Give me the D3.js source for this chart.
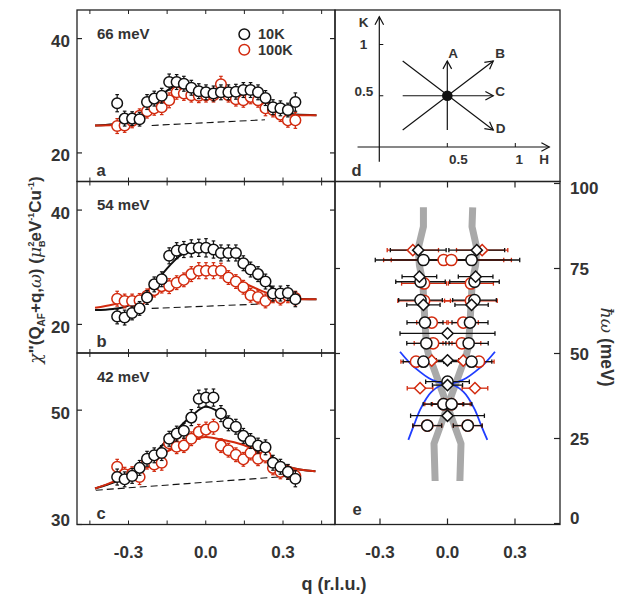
<!DOCTYPE html>
<html><head><meta charset="utf-8">
<script src="https://cdn.jsdelivr.net/npm/d3@7"></script>
<style>
body{margin:0;background:#fff}
svg{display:block}
text{font-family:"Liberation Sans",Arial,Helvetica,sans-serif;font-weight:bold;fill:#333}
</style>
</head><body>
<svg id="c" width="623" height="595"></svg>
<script>
// ---------------- DATA ----------------
const qPoints = [-0.344,-0.315,-0.286,-0.257,-0.228,-0.2,-0.171,-0.142,-0.113,-0.085,-0.056,-0.027,0.001,0.03,0.059,0.088,0.117,0.146,0.174,0.203,0.232,0.261,0.29,0.319,0.348];

// panel a : 66 meV
const a10  = [28.7,26.0,26.0,25.9,28.9,29.5,30.0,32.4,32.4,32.1,31.4,30.8,30.6,30.4,30.6,30.6,30.7,31.0,31.0,30.6,29.6,28.0,27.8,27.5,28.9];
const a10err = [1.5,1.3,1.2,1.2,1.3,1.3,1.3,1.4,1.3,1.3,1.3,1.3,1.3,1.3,1.3,1.3,1.3,1.3,1.3,1.3,1.3,1.3,1.3,1.2,1.6];
const a100 = [24.7,24.8,25.6,26.5,27.3,27.8,28.0,29.2,30.6,30.4,30.1,30.0,30.1,30.1,32.0,30.1,29.4,29.2,29.8,29.2,27.8,27.5,26.7,25.7,25.7];
const a100err = [1.3,1.2,1.2,1.2,1.2,1.2,1.3,1.3,1.2,1.2,1.2,1.2,1.2,1.2,1.4,1.2,1.2,1.2,1.2,1.2,1.3,1.2,1.2,1.2,1.4];
const aFit10  = [[-0.43,24.8],[-0.36,25.0],[-0.3,25.7],[-0.25,27.0],[-0.2,28.9],[-0.15,30.9],[-0.1,31.9],[-0.05,31.4],[0,30.8],[0.05,30.6],[0.1,30.8],[0.15,30.9],[0.2,30.2],[0.25,28.8],[0.3,27.4],[0.35,26.7],[0.43,26.6]];
const aFit100 = [[-0.43,24.8],[-0.36,24.9],[-0.3,25.4],[-0.25,26.5],[-0.2,27.8],[-0.15,29.2],[-0.1,30.2],[-0.05,30.4],[0,30.3],[0.05,30.1],[0.1,29.8],[0.15,29.6],[0.2,29.2],[0.25,28.2],[0.3,27.1],[0.35,26.6],[0.43,26.6]];
const aBack = [[-0.21,24.8],[0.23,25.8]];

// panel b : 54 meV
const b10  = [21.4,21.2,22.0,22.8,24.7,27.0,27.9,32.0,32.9,33.1,33.3,33.4,33.4,33.1,32.5,32.5,32.5,30.7,29.6,28.8,27.5,25.4,25.4,25.5,24.4];
const b10err = [1.3,1.3,1.2,1.2,1.2,1.3,1.3,1.4,1.4,1.4,1.5,1.5,1.6,1.5,1.4,1.4,1.4,1.3,1.3,1.3,1.3,1.3,1.3,1.3,1.3];
const b100 = [24.5,24.1,24.1,24.2,25.0,26.0,26.7,26.7,27.3,27.8,28.8,29.4,29.4,29.4,29.4,28.2,27.5,26.5,25.1,24.8,24.1,25.0,24.6,25.0,24.6];
const b100err = [1.3,1.2,1.2,1.2,1.2,1.2,1.2,1.3,1.2,1.2,1.3,1.4,1.4,1.4,1.3,1.2,1.2,1.2,1.2,1.2,1.2,1.2,1.2,1.2,1.2];
const bFit10  = [[-0.43,22.5],[-0.36,22.7],[-0.3,23.3],[-0.25,24.7],[-0.2,27.0],[-0.15,29.8],[-0.1,32.0],[-0.05,33.1],[0,33.4],[0.05,33.2],[0.1,32.4],[0.15,30.8],[0.2,28.7],[0.25,26.7],[0.3,25.2],[0.35,24.5],[0.43,24.4]];
const bFit100 = [[-0.43,22.9],[-0.36,23.5],[-0.3,24.2],[-0.25,24.9],[-0.2,25.8],[-0.15,26.8],[-0.1,27.9],[-0.05,28.9],[0,29.4],[0.05,29.2],[0.1,28.3],[0.15,27.2],[0.2,26.2],[0.25,25.3],[0.3,24.7],[0.35,24.4],[0.43,24.4]];
const bBack = [[-0.21,22.8],[0.23,23.6]];

// panel c : 42 meV
const c10  = [38.3,37.9,38.5,39.9,41.5,42.1,42.5,45.0,45.9,46.4,48.7,52.0,52.2,52.2,49.4,47.7,47.1,45.5,44.6,43.8,43.5,40.8,40.1,39.2,38.0];
const c10err = [1.4,1.3,1.3,1.3,1.3,1.3,1.3,1.3,1.3,1.3,1.4,1.5,1.5,1.5,1.4,1.3,1.3,1.3,1.3,1.3,1.3,1.3,1.3,1.3,1.4];
const c100 = [40.1,38.8,38.9,38.3,40.9,40.5,40.8,44.2,43.6,43.8,45.0,46.2,46.6,47.1,43.8,43.0,42.2,41.4,42.5,41.5,42.0,39.9,39.2,39.2,38.5];
const c100err = [1.3,1.2,1.2,1.3,1.2,1.2,1.3,1.2,1.2,1.2,1.2,1.3,1.3,1.3,1.2,1.2,1.2,1.2,1.2,1.2,1.2,1.2,1.2,1.2,1.2];
const cFit10  = [[-0.43,36.3],[-0.38,37.0],[-0.31,38.3],[-0.227,41.2],[-0.139,45.3],[-0.055,49.0],[0,50.6],[0.058,49.5],[0.147,46.0],[0.23,42.8],[0.32,40.1],[0.426,39.3]];
const cFit100 = [[-0.43,36.3],[-0.38,37.1],[-0.31,38.5],[-0.227,40.8],[-0.139,43.0],[-0.055,44.75],[0,45.3],[0.058,44.9],[0.147,43.9],[0.23,42.1],[0.32,40.1],[0.426,39.3]];
const cBack = [[-0.427,36.0],[0.34,38.5]];

const panelNames = ["a","b","c"];
const energyLabels = ["66 meV","54 meV","42 meV"];
const yDomains = [[15,45],[15,45],[30,60]];
const yTickValues = [[20,40],[20,40],[30,50]];
const legendLabels = ["10K","100K"];
const qTicks = [-0.45,-0.3,-0.15,0,0.15,0.3,0.45];
const qTickLabels = [-0.3,0,0.3];

// panel d : reciprocal space sketch
const dCenter = [0.5,0.5];
const dArrows = [
  {name:"A", from:[0.5,0.166], to:[0.5,0.839]},
  {name:"B", from:[0.172,0.166], to:[0.838,0.839]},
  {name:"C", from:[0.172,0.5], to:[0.838,0.5]},
  {name:"D", from:[0.172,0.839], to:[0.838,0.166]}
];
const dHTicks = [0.5,1];
const dKTicks = [0.5,1];

// panel e : dispersion  rows = [E (meV), |q|, q error]
const e10Circles  = [[77.5,0.107,0.214],[71.1,0.120,0.110],[65.7,0.120,0.097],[59.1,0.100,0.080],[53.0,0.094,0.087],[47.6,0.107,0.090],[41.7,0,0.097],[35.1,0.018,0.090],[28.8,0.090,0.064]];
const e10Diamonds = [[80.4,0.130,0.124],[72.6,0.125,0.077],[64.3,0.107,0.074],[55.9,0,0.211],[48.0,0,0.05],[40.7,0,0.067],[31.7,0,0.164]];
const e100Circles = [[77.5,0.017,0.267],[70.6,0.104,0.10],[65.5,0.104,0.117],[59.1,0.070,0.067],[53.0,0.064,0.084],[47.6,0.140,0.067],[35.1,0.017,0.084],[28.8,0.090,0.064]];
const e100Diamonds= [[80.4,0.154,0.114],[47.9,0.070,0.067],[39.8,0.122,0.057]];
const grayLeft  = [[-0.107,93],[-0.107,87.3],[-0.130,81],[-0.125,76],[-0.110,71],[-0.100,59],[-0.093,52],[-0.085,50],[0.060,23.5],[0.055,12.5]];
const grayRight = [[0.112,93],[0.109,87.3],[0.130,81],[0.125,76],[0.110,71],[0.100,59],[0.093,52],[0.085,50],[-0.060,23.5],[-0.055,12.5]];
const blueUpper = [[-0.211,50.5],[-0.167,47.2],[-0.122,44.6],[-0.084,42.8],[-0.048,41.7],[0,41.0],[0.048,41.7],[0.084,42.8],[0.122,44.6],[0.167,47.2],[0.211,50.5]];
const blueLower = [[-0.174,24.6],[-0.150,28.8],[-0.122,33.4],[-0.094,36.8],[-0.070,38.8],[-0.033,40.5],[0,41.0],[0.033,40.5],[0.070,38.8],[0.094,36.8],[0.122,33.4],[0.150,28.8],[0.177,24.6]];
const eTicksY = [0,25,50,75,100];
const eTicksQ = [-0.3,0,0.3];

// ---------------- DRAW ----------------
const svg = d3.select("#c");
const BLACK = "#111", RED = "#d22a0e", FRAME = "#222";
const PH = 171.5;
const panelTops = [10,181.5,353];
const xq = d3.scaleLinear().domain([-0.5,0.5]).range([77,334.5]);
const xe = d3.scaleLinear().domain([-0.5,0.5]).range([335,560]);
const ye = d3.scaleLinear().domain([0,100]).range([523.5,183.5]);
const fmtQ = v => (v===0 ? "0.0" : d3.format(".1f")(v).replace("\u2212","-"));

const values10 = [a10,b10,c10], errs10 = [a10err,b10err,c10err];
const values100 = [a100,b100,c100], errs100 = [a100err,b100err,c100err];
const fits10 = [aFit10,bFit10,cFit10], fits100 = [aFit100,bFit100,cFit100];
const backs = [aBack,bBack,cBack];

function drawSeries(g, y, vals, errs, color){
  const pts = qPoints.map((q,i)=>({q, v:vals[i], e:errs[i]}));
  const eb = g.append("g").attr("stroke",color).attr("stroke-width",1.2);
  pts.forEach(p=>{
    eb.append("line").attr("x1",xq(p.q)).attr("x2",xq(p.q)).attr("y1",y(p.v-p.e)).attr("y2",y(p.v+p.e));
    [p.v-p.e,p.v+p.e].forEach(v=>eb.append("line").attr("x1",xq(p.q)-1.8).attr("x2",xq(p.q)+1.8).attr("y1",y(v)).attr("y2",y(v)));
  });
  g.append("g").selectAll("circle").data(pts).join("circle")
    .attr("cx",d=>xq(d.q)).attr("cy",d=>y(d.v)).attr("r",5.3)
    .attr("fill","#fff").attr("stroke",color).attr("stroke-width",1.5);
}

for(let k=0;k<3;k++){
  const top = panelTops[k];
  const y = d3.scaleLinear().domain(yDomains[k]).range([top+PH, top]);
  const g = svg.append("g");
  const line = d3.line().x(d=>xq(d[0])).y(d=>y(d[1])).curve(d3.curveMonotoneX);
  g.append("path").attr("d",line(backs[k])).attr("fill","none").attr("stroke",BLACK).attr("stroke-width",1.1).attr("stroke-dasharray","7,4");
  g.append("path").attr("d",line(fits10[k])).attr("fill","none").attr("stroke",BLACK).attr("stroke-width",2);
  g.append("path").attr("d",line(fits100[k])).attr("fill","none").attr("stroke",RED).attr("stroke-width",2);
  drawSeries(g, y, values100[k], errs100[k], RED);
  drawSeries(g, y, values10[k], errs10[k], BLACK);
  g.append("rect").attr("x",77).attr("y",top).attr("width",258).attr("height",PH).attr("fill","none").attr("stroke",FRAME).attr("stroke-width",1.3);
  yTickValues[k].forEach(t=>{
    g.append("line").attr("x1",77).attr("x2",82).attr("y1",y(t)).attr("y2",y(t)).attr("stroke",FRAME).attr("stroke-width",1.2);
    g.append("line").attr("x1",335).attr("x2",330).attr("y1",y(t)).attr("y2",y(t)).attr("stroke",FRAME).attr("stroke-width",1.2);
    const ly = Math.min(y(t)+8.5, top+PH+1);
    g.append("text").attr("x",70).attr("y",ly).attr("text-anchor","end").attr("font-size",17).text(t);
  });
  qTicks.forEach(t=>{
    g.append("line").attr("x1",xq(t)).attr("x2",xq(t)).attr("y1",top+PH).attr("y2",top+PH-4).attr("stroke",FRAME).attr("stroke-width",1);
    g.append("line").attr("x1",xq(t)).attr("x2",xq(t)).attr("y1",top).attr("y2",top+4).attr("stroke",FRAME).attr("stroke-width",1);
  });
  g.append("text").attr("x",97).attr("y",top+28.5).attr("font-size",15).text(energyLabels[k]);
  g.append("text").attr("x",96.5).attr("y",top+PH-6).attr("font-size",16.5).text(panelNames[k]);
}

// legend
[[BLACK,legendLabels[0],34.3],[RED,legendLabels[1],49.8]].forEach(([col,lab,yy])=>{
  svg.append("circle").attr("cx",244.3).attr("cy",yy).attr("r",5.3).attr("fill","#fff").attr("stroke",col).attr("stroke-width",1.5);
  svg.append("text").attr("x",258).attr("y",yy+5).attr("font-size",14.5).text(lab);
});

// x tick labels
qTickLabels.forEach(t=>{
  svg.append("text").attr("x",xq(t)).attr("y",557.5).attr("text-anchor","middle").attr("font-size",17).text(fmtQ(t));
  svg.append("text").attr("x",xe(t)).attr("y",557.5).attr("text-anchor","middle").attr("font-size",17).text(fmtQ(t));
});
svg.append("text").attr("x",334).attr("y",590).attr("text-anchor","middle").attr("font-size",18).text("q (r.l.u.)");

// ---------- panel d ----------
const gd = svg.append("g");
const xH = d3.scaleLinear().domain([0,1]).range([379.3,515.3]);
const yK = d3.scaleLinear().domain([0,1]).range([147,44.5]);
gd.append("rect").attr("x",335).attr("y",10).attr("width",225).attr("height",171.5).attr("fill","none").attr("stroke",FRAME).attr("stroke-width",1.3);
function arrowHead(g, x1,y1,x2,y2, len){
  const a = Math.atan2(y2-y1,x2-x1), s = 0.5;
  g.append("path").attr("d",`M${x2-len*Math.cos(a-s)},${y2-len*Math.sin(a-s)}L${x2},${y2}L${x2-len*Math.cos(a+s)},${y2-len*Math.sin(a+s)}`)
   .attr("fill","none").attr("stroke",BLACK).attr("stroke-width",1.2);
}
gd.append("line").attr("x1",xH(0)).attr("x2",xH(0)).attr("y1",yK(-0.145)).attr("y2",yK(1.27)).attr("stroke",BLACK).attr("stroke-width",1.2);
arrowHead(gd,xH(0),yK(0),xH(0),yK(1.27),9);
gd.append("line").attr("x1",xH(-0.16)).attr("x2",xH(1.25)).attr("y1",yK(0)).attr("y2",yK(0)).attr("stroke",BLACK).attr("stroke-width",1.2);
arrowHead(gd,xH(0),yK(0),xH(1.25),yK(0),9);
dKTicks.forEach(t=>gd.append("line").attr("x1",xH(0)).attr("x2",xH(0)+4).attr("y1",yK(t)).attr("y2",yK(t)).attr("stroke",BLACK).attr("stroke-width",1));
dHTicks.forEach(t=>gd.append("line").attr("x1",xH(t)).attr("x2",xH(t)).attr("y1",yK(0)).attr("y2",yK(0)-4).attr("stroke",BLACK).attr("stroke-width",1));
dArrows.forEach(a=>{
  const x1=xH(a.from[0]), y1=yK(a.from[1]), x2=xH(a.to[0]), y2=yK(a.to[1]);
  gd.append("line").attr("x1",x1).attr("y1",y1).attr("x2",x2).attr("y2",y2).attr("stroke",BLACK).attr("stroke-width",1.2);
  arrowHead(gd,x1,y1,x2,y2,9);
});
gd.append("circle").attr("cx",xH(dCenter[0])).attr("cy",yK(dCenter[1])).attr("r",5.3).attr("fill",BLACK);
const dLab = [["A",453,57.7],["B",500,57.7],["C",500,96],["D",500.5,132.7]];
dLab.forEach(([t,x,y])=>gd.append("text").attr("x",x).attr("y",y).attr("text-anchor","middle").attr("font-size",13.5).text(t));
gd.append("text").attr("x",363.5).attr("y",26.5).attr("text-anchor","middle").attr("font-size",13.5).text("K");
gd.append("text").attr("x",xH(0)-12).attr("y",yK(1)+4.5).attr("text-anchor","end").attr("font-size",13.5).text("1");
gd.append("text").attr("x",xH(0)-6).attr("y",yK(0.5)+0.5).attr("text-anchor","end").attr("font-size",13.5).text("0.5");
gd.append("text").attr("x",xH(0.5)+11).attr("y",164.3).attr("text-anchor","middle").attr("font-size",13.5).text("0.5");
gd.append("text").attr("x",xH(1)+4).attr("y",164.3).attr("text-anchor","middle").attr("font-size",13.5).text("1");
gd.append("text").attr("x",544).attr("y",164.3).attr("text-anchor","middle").attr("font-size",13.5).text("H");
gd.append("text").attr("x",351.5).attr("y",175.5).attr("font-size",16.5).text("d");

// ---------- panel e ----------
const ge = svg.append("g");
const eline = d3.line().x(d=>xe(d[0])).y(d=>ye(d[1]));
[grayLeft,grayRight].forEach(c=>ge.append("path").attr("d",eline(c)).attr("fill","none").attr("stroke","#a9a9a9").attr("stroke-width",7).attr("stroke-linejoin","round"));
const bline = d3.line().x(d=>xe(d[0])).y(d=>ye(d[1])).curve(d3.curveCatmullRom);
[blueUpper,blueLower].forEach(c=>ge.append("path").attr("d",bline(c)).attr("fill","none").attr("stroke","#1f3dff").attr("stroke-width",1.8));
function expand(rows){
  const out=[];
  rows.forEach(([E,q,err])=>{ if(q===0) out.push({E,q:0,err}); else {out.push({E,q:-q,err}); out.push({E,q:q,err});} });
  return out;
}
function eBars(rows,color){
  const g = ge.append("g").attr("stroke",color).attr("stroke-width",1.3);
  expand(rows).forEach(p=>{
    const y=ye(p.E);
    g.append("line").attr("x1",xe(p.q-p.err)).attr("x2",xe(p.q+p.err)).attr("y1",y).attr("y2",y);
    [p.q-p.err,p.q+p.err].forEach(q=>g.append("line").attr("x1",xe(q)).attr("x2",xe(q)).attr("y1",y-2.2).attr("y2",y+2.2));
  });
}
function eMarks(rows,color,shape){
  const g = ge.append("g");
  expand(rows).forEach(p=>{
    const x=xe(p.q), y=ye(p.E);
    if(shape==="circle") g.append("circle").attr("cx",x).attr("cy",y).attr("r",5.6).attr("fill","#fff").attr("stroke",color).attr("stroke-width",1.5);
    else { const r=5.6; g.append("path").attr("d",`M${x},${y-r}L${x+r},${y}L${x},${y+r}L${x-r},${y}Z`).attr("fill","#fff").attr("stroke",color).attr("stroke-width",1.5); }
  });
}
eBars(e100Circles,RED); eBars(e100Diamonds,RED);
eBars(e10Circles,BLACK); eBars(e10Diamonds,BLACK);
eMarks(e100Circles,RED,"circle"); eMarks(e100Diamonds,RED,"diamond");
eMarks(e10Circles,BLACK,"circle"); eMarks(e10Diamonds,BLACK,"diamond");
ge.append("rect").attr("x",335).attr("y",181.5).attr("width",225).attr("height",343).attr("fill","none").attr("stroke",FRAME).attr("stroke-width",1.3);
eTicksY.forEach(t=>{
  ge.append("line").attr("x1",560).attr("x2",554).attr("y1",ye(t)).attr("y2",ye(t)).attr("stroke",FRAME).attr("stroke-width",1.2);
  if(t>0 && t<100) ge.append("line").attr("x1",335).attr("x2",340).attr("y1",ye(t)).attr("y2",ye(t)).attr("stroke",FRAME).attr("stroke-width",1.2);
  const ly = Math.max(Math.min(ye(t),518),188);
  ge.append("text").attr("x",570).attr("y",ly+6).attr("font-size",17).text(t);
});
eTicksQ.forEach(t=>{
  ge.append("line").attr("x1",xe(t)).attr("x2",xe(t)).attr("y1",524.5).attr("y2",518.5).attr("stroke",FRAME).attr("stroke-width",1.2);
  ge.append("line").attr("x1",xe(t)).attr("x2",xe(t)).attr("y1",181.5).attr("y2",187.5).attr("stroke",FRAME).attr("stroke-width",1.2);
});
ge.append("text").attr("x",352.5).attr("y",515).attr("font-size",16.5).text("e");

// ---------- axis titles ----------
const yt = svg.append("text").attr("transform","translate(41,270) rotate(-90)").attr("text-anchor","middle").attr("font-size",17);
yt.append("tspan").attr("font-family","'DejaVu Serif',serif").attr("font-style","italic").attr("font-weight","normal").text("\u03c7");
yt.append("tspan").text("\"(Q");
yt.append("tspan").attr("font-size",10).attr("dy",4).text("AF");
yt.append("tspan").attr("dy",-4).text("+q,");
yt.append("tspan").attr("font-family","'DejaVu Serif',serif").attr("font-style","italic").attr("font-weight","normal").text("\u03c9");
yt.append("tspan").text(") (");
yt.append("tspan").attr("font-family","'DejaVu Serif',serif").attr("font-style","italic").attr("font-weight","normal").text("\u03bc");
yt.append("tspan").attr("font-size",9).attr("dy",4).text("B");
yt.append("tspan").attr("font-size",9).attr("dx",-6).attr("dy",-11).text("2");
yt.append("tspan").attr("dy",7).text("eV");
yt.append("tspan").attr("font-size",9).attr("dy",-7).text("-1");
yt.append("tspan").attr("dy",7).text("Cu");
yt.append("tspan").attr("font-size",9).attr("dy",-7).text("-1");
yt.append("tspan").attr("dy",7).text(")");

const rt = svg.append("text").attr("transform","translate(601,347) rotate(90)").attr("text-anchor","middle").attr("font-size",17.5);
rt.append("tspan").attr("font-family","'DejaVu Serif',serif").attr("font-style","italic").attr("font-weight","normal").text("\u0127\u03c9");
rt.append("tspan").text(" (meV)");
</script>
</body></html>
